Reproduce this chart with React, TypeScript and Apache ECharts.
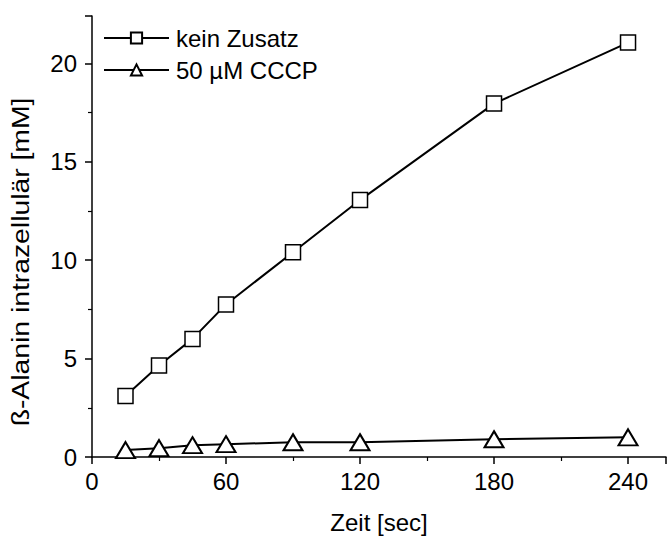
import React, { useEffect, useRef } from "react";
import * as echarts from "echarts";

const times = [15, 30, 45, 60, 90, 120, 180, 240];
const keinZusatz = [3.1, 4.65, 6.0, 7.75, 10.4, 13.05, 17.95, 21.05];
const cccp = [0.35, 0.45, 0.6, 0.65, 0.75, 0.75, 0.9, 1.0];
const seriesNames = ["kein Zusatz", "50 µM CCCP"];
const xAxisTitle = "Zeit [sec]";
const yAxisTitle = "ß-Alanin intrazellulär [mM]";

const FONT = "Liberation Sans, Arial, sans-serif";

export default function App() {
  const ref = useRef<HTMLDivElement>(null);
  useEffect(() => {
    const chart = echarts.init(ref.current!, null, { renderer: "svg" });
    const mk = (vals: number[]) => times.map((t, i) => [t, vals[i]]);
    chart.setOption({
      animation: false,
      backgroundColor: "#fff",
      grid: { left: 92, right: 0, top: 16, bottom: 82, containLabel: false },
      legend: {
        left: 103,
        top: 26,
        padding: 0,
        orient: "vertical",
        itemWidth: 65,
        itemHeight: 14,
        itemGap: 8,
        textStyle: { fontFamily: FONT, fontSize: 24, lineHeight: 24, color: "#000", padding: [0, 0, 0, 2] },
        data: seriesNames,
      },
      graphic: [
        {
          type: "text",
          x: 21,
          y: 262,
          rotation: Math.PI / 2,
          scaleX: 1.18,
          style: {
            text: yAxisTitle,
            fontFamily: FONT,
            fontSize: 24,
            fill: "#000",
            align: "center",
            verticalAlign: "middle",
          },
        },
      ],
      xAxis: {
        type: "value",
        min: 0,
        max: 257,
        interval: 60,
        name: xAxisTitle,
        nameLocation: "middle",
        nameGap: 53,
        nameTextStyle: { fontFamily: FONT, fontSize: 24, color: "#000" },
        axisLine: { lineStyle: { color: "#000", width: 1.5 } },
        axisTick: { show: true, length: 7, lineStyle: { color: "#000", width: 1.5 } },
        minorTick: { show: true, splitNumber: 2, length: 4, lineStyle: { color: "#000", width: 1.2 } },
        axisLabel: {
          fontFamily: FONT,
          fontSize: 24,
          color: "#000",
          margin: 12,
          formatter: (v: number) => (v % 60 === 0 && v <= 240 ? String(v) : ""),
        },
        splitLine: { show: false },
      },
      yAxis: {
        type: "value",
        min: 0,
        max: 22.4,
        interval: 5,
        axisLine: { show: true, lineStyle: { color: "#000", width: 1.5 } },
        axisTick: { show: true, length: 7, lineStyle: { color: "#000", width: 1.5 } },
        minorTick: { show: true, splitNumber: 2, length: 4, lineStyle: { color: "#000", width: 1.2 } },
        axisLabel: {
          fontFamily: FONT,
          fontSize: 24,
          color: "#000",
          margin: 15,
          formatter: (v: number) => (v % 5 === 0 ? String(v) : ""),
        },
        splitLine: { show: false },
      },
      series: [
        {
          name: seriesNames[0],
          type: "line",
          data: mk(keinZusatz),
          symbol: "rect",
          symbolSize: 15,
          lineStyle: { color: "#000", width: 2 },
          itemStyle: { color: "#fff", borderColor: "#000", borderWidth: 1.5 },
        },
        {
          name: seriesNames[1],
          type: "line",
          data: mk(cccp),
          symbol: "triangle",
          symbolSize: [19, 16],
          lineStyle: { color: "#000", width: 2 },
          itemStyle: { color: "#fff", borderColor: "#000", borderWidth: 2 },
        },
      ],
    });
    return () => chart.dispose();
  }, []);
  return <div ref={ref} style={{ position: "fixed", left: 0, top: 0, width: 669, height: 539 }} />;
}
